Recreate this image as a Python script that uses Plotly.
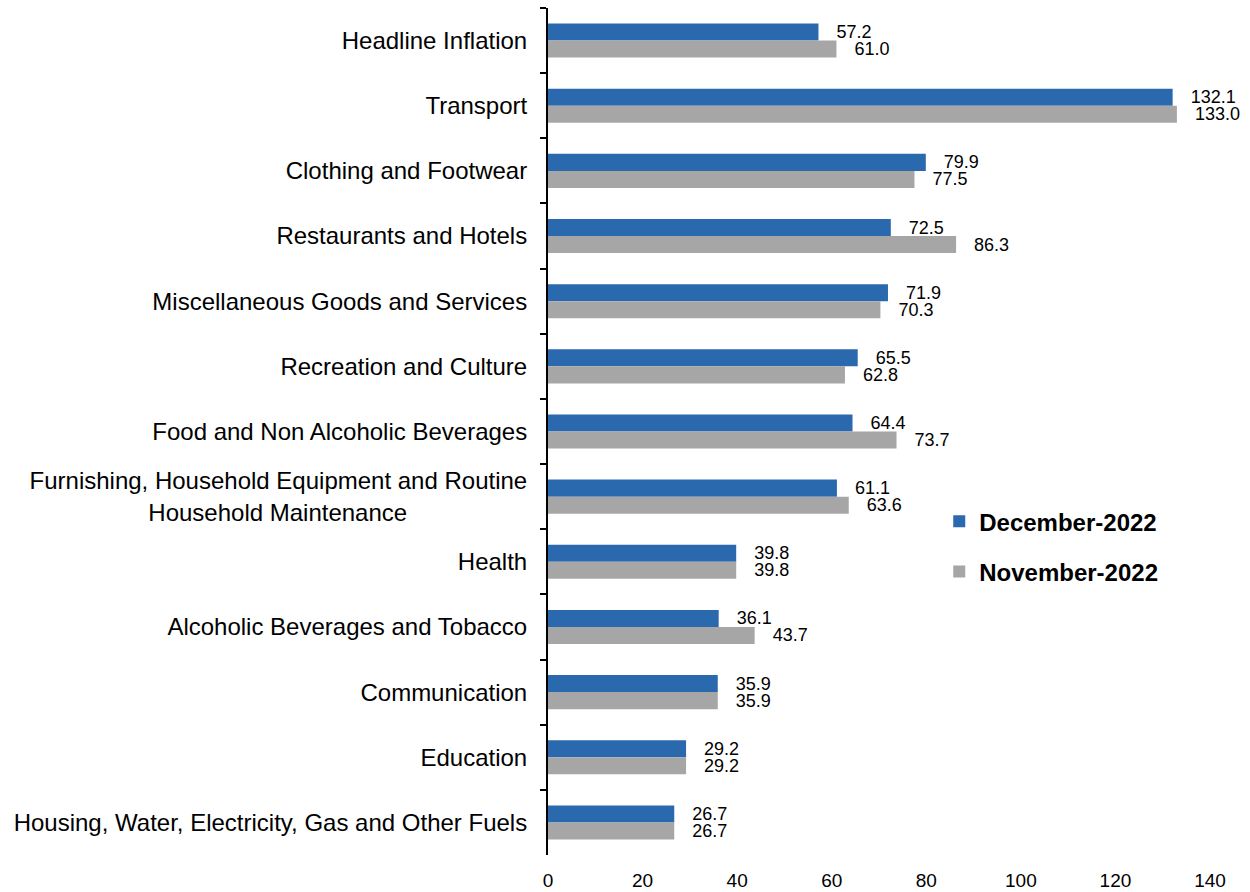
import plotly.graph_objects as go

NB = "\u00a0"
categories = [
    "Headline Inflation",
    "Transport",
    "Clothing and Footwear",
    "Restaurants and Hotels",
    "Miscellaneous Goods and Services",
    "Recreation and Culture",
    "Food and Non Alcoholic Beverages",
    "Furnishing, Household Equipment and Routine<br>Household Maintenance" + NB * 18,
    "Health",
    "Alcoholic Beverages and Tobacco",
    "Communication",
    "Education",
    "Housing, Water, Electricity, Gas and Other Fuels",
]
dec_2022 = [57.2, 132.1, 79.9, 72.5, 71.9, 65.5, 64.4, 61.1, 39.8, 36.1, 35.9, 29.2, 26.7]
nov_2022 = [61.0, 133.0, 77.5, 86.3, 70.3, 62.8, 73.7, 63.6, 39.8, 43.7, 35.9, 29.2, 26.7]
x_ticks = [0, 20, 40, 60, 80, 100, 120, 140]

FONT = "Arial, Liberation Sans, sans-serif"
BLUE = "#2B69AF"
GRAY = "#A6A6A6"
PAD = NB * 3

fig = go.Figure()
for name, vals, col, grp in [("December-2022", dec_2022, BLUE, "a"), ("November-2022", nov_2022, GRAY, "b")]:
    fig.add_trace(go.Bar(
        y=categories, x=vals, name=name, orientation="h",
        marker=dict(color=col, line=dict(width=0)),
        text=[PAD + f"{v:.1f}" for v in vals],
        textposition="outside", constraintext="none", cliponaxis=False,
        textfont=dict(family=FONT, size=18, color="#000000"),
        legendgroup=grp, hoverinfo="skip",
    ))

fig.update_layout(
    width=1250, height=892,
    margin=dict(l=548, r=40, t=8, b=37, autoexpand=False),
    barmode="group", bargap=0.477, bargroupgap=0,
    plot_bgcolor="white", paper_bgcolor="white",
    font=dict(family=FONT, color="#000000"),
    legend=dict(
        x=0.591, xanchor="left", y=0.42, yanchor="top",
        font=dict(family=FONT, size=24, color="#000000", weight="bold"),
        traceorder="grouped", tracegroupgap=16,
        bgcolor="rgba(0,0,0,0)",
    ),
    xaxis=dict(
        range=[0, 140], tickvals=x_ticks, showgrid=False, zeroline=False,
        showline=False, ticks="", tickfont=dict(family=FONT, size=19),
        ticklabelstandoff=12, fixedrange=True, automargin=False,
    ),
    yaxis=dict(
        autorange="reversed", showline=True, linecolor="#000000", linewidth=2,
        ticks="outside", tickson="boundaries", ticklen=6, tickcolor="#000000", tickwidth=2,
        tickfont=dict(family=FONT, size=24), showgrid=False, ticklabelstandoff=14,
        automargin=False, fixedrange=True,
    ),
)

fig.write_html(
    "out.html",
    config={"displayModeBar": False},
    post_script="document.body.style.margin='0';document.body.style.padding='0';",
)
